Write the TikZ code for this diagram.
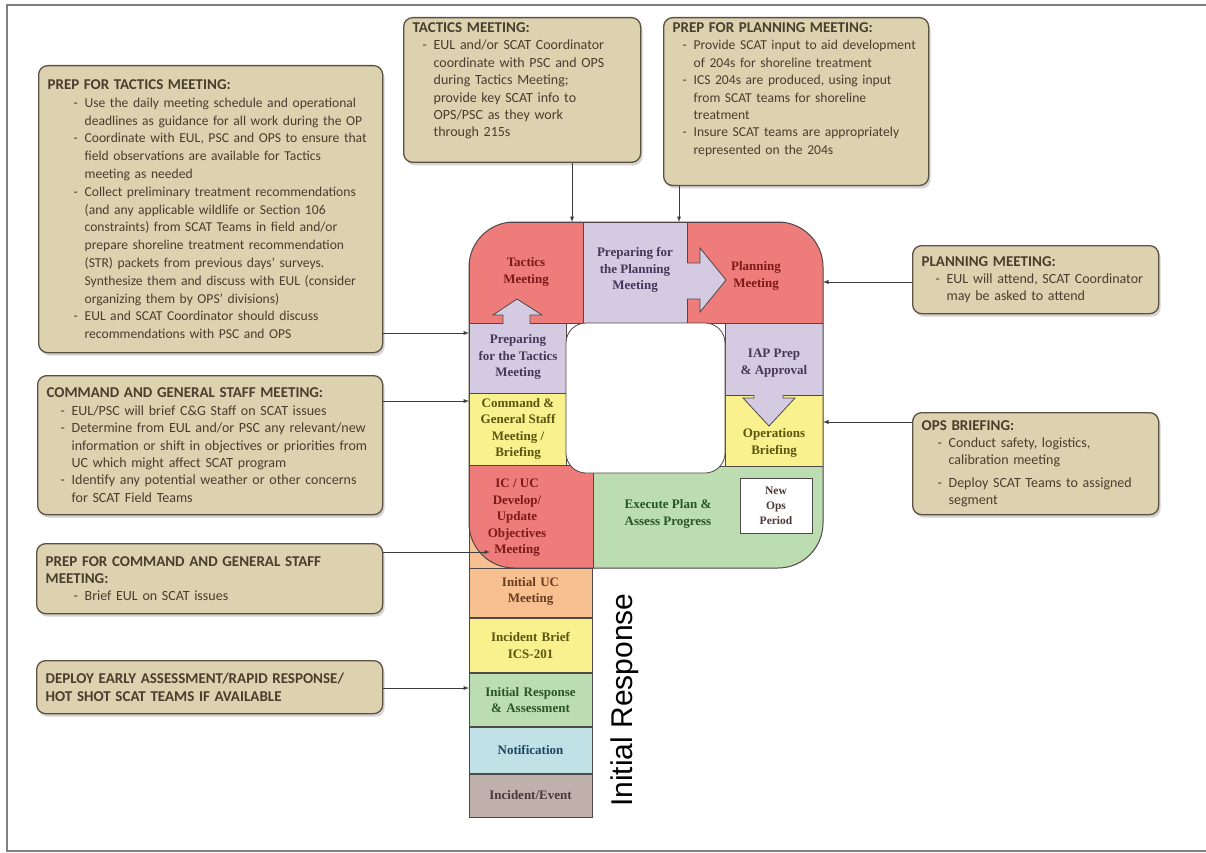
\documentclass[tikz,border=0pt]{standalone}
\usepackage{fontspec}
\setmainfont{Carlito}
\newfontfamily\diagfont{Liberation Serif}
\newfontfamily\phasefont{Liberation Sans}
\usepackage{xcolor}
\usepackage{tikz}
\usetikzlibrary{chains,positioning,shadows}

\definecolor{boxfill}{RGB}{221,210,176}
\definecolor{boxline}{RGB}{92,82,68}
\definecolor{boxtext}{RGB}{72,62,45}
\definecolor{tacred}{RGB}{238,124,122}
\definecolor{prepvio}{RGB}{212,203,226}
\definecolor{brfyel}{RGB}{248,241,142}
\definecolor{execgrn}{RGB}{188,221,178}
\definecolor{ucorange}{RGB}{247,192,145}
\definecolor{notiblue}{RGB}{192,226,230}
\definecolor{eventgry}{RGB}{192,176,172}
\definecolor{edge}{RGB}{80,72,70}
\definecolor{connline}{RGB}{60,60,60}
\definecolor{framegry}{RGB}{128,128,128}
\definecolor{redtxt}{RGB}{125,25,25}
\definecolor{viotxt}{RGB}{70,55,90}
\definecolor{yeltxt}{RGB}{90,85,15}
\definecolor{grntxt}{RGB}{40,85,40}
\definecolor{orgtxt}{RGB}{105,60,30}
\definecolor{blutxt}{RGB}{30,70,100}
\definecolor{evttxt}{RGB}{75,56,56}

% dash bullet with hanging indent (break lines with \newline, end the note with \par)
\newcommand{\dashitem}[1][14pt]{\par\hangindent=\dimexpr#1+11pt\relax\hangafter=1\noindent\hspace*{#1}\makebox[11pt][l]{-}}
\newcommand{\notehead}[1]{{\bfseries\fontsize{15}{17.6}\selectfont #1}}

\begin{document}
\begin{tikzpicture}[x=1pt,y=-1pt]

                \tikzstyle{notebox}=[draw=boxline,fill=boxfill,line width=1.3pt,rounded corners=9pt,
                    drop shadow={opacity=0.35,shadow xshift=2pt,shadow yshift=-3pt},anchor=north west,
                    align=left,inner xsep=9pt,inner ysep=5pt,text=boxtext,
                    font=\fontsize{14}{17.4}\selectfont]
                \tikzstyle{region}=[draw=edge,line width=0.8pt]
                \tikzstyle{phase}=[align=center,font=\diagfont\bfseries\fontsize{13}{16.5}\selectfont]
                \tikzstyle{stemblock}=[phase,draw=edge,line width=0.8pt,text width=119pt,inner xsep=2pt,inner ysep=1pt]
                \tikzstyle{blockarrow}=[draw=edge,line width=0.8pt,line join=miter]
                \tikzstyle{conn}=[-latex,draw=connline,line width=0.9pt]

                \useasboundingbox (0,0) rectangle (1206,853);
                \draw[framegry,line width=2pt] (1206,5) -- (7,5) -- (7,851) -- (1206,851);

                % stem of the P (initial response)
                \begin{scope}[start chain=stem going above,node distance=0pt]
                    \node [on chain=stem,stemblock,fill=eventgry,text=evttxt,minimum height=43pt] (event) at (530.5,795.5) {Incident/Event};
                    \node [on chain=stem,stemblock,fill=notiblue,text=blutxt,minimum height=46pt] (notify) {Notification};
                    \node [on chain=stem,stemblock,fill=execgrn,text=grntxt,minimum height=53pt] (initresp) {Initial Response\\\& Assessment};
                    \node [on chain=stem,stemblock,fill=brfyel,text=yeltxt,minimum height=54pt] (incbrief) {Incident Brief\\ICS-201};
                    \node [on chain=stem,stemblock,fill=ucorange,text=orgtxt,minimum height=53pt] (inituc) {Initial UC\\Meeting};
                \end{scope}
                \filldraw[region,fill=ucorange] (469,521) rectangle (592,568);

                % loop of the P
                \begin{scope}
                    \clip[rounded corners=45pt] (469,222) rectangle (823,568);
                    \filldraw[region,fill=tacred] (469,222) rectangle (583,323);
                    \filldraw[region,fill=prepvio] (583,222) rectangle (687,323);
                    \filldraw[region,fill=tacred] (687,222) rectangle (823,323);
                    \filldraw[region,fill=prepvio] (469,323) rectangle (566,393);
                    \filldraw[region,fill=brfyel] (469,393) rectangle (566,465);
                    \filldraw[region,fill=tacred] (469,465) rectangle (593,568);
                    \filldraw[region,fill=prepvio] (725,323) rectangle (823,395);
                    \filldraw[region,fill=brfyel] (725,395) rectangle (823,466);
                    \filldraw[region,fill=execgrn] (593,466) rectangle (823,568);
                \end{scope}
                \draw[region,line width=1pt,rounded corners=45pt] (469,222) rectangle (823,568);
                \filldraw[region,fill=white,rounded corners=20pt] (566,323) rectangle (725,473);

                % block arrows
                \fill[prepvio] (503,327) -- (503,315) -- (493,315) -- (517,299) -- (542,315) -- (530,315) -- (530,327) -- cycle;
                \draw[blockarrow] (503,324) -- (503,315) -- (493,315) -- (517,299) -- (542,315) -- (530,315) -- (530,324);
                \fill[prepvio] (684,263) -- (700,263) -- (700,248) -- (726,280) -- (700,312) -- (700,299) -- (684,299) -- cycle;
                \draw[blockarrow] (687,263) -- (700,263) -- (700,248) -- (726,280) -- (700,312) -- (700,299) -- (687,299);
                \fill[prepvio] (754,391) -- (754,398) -- (743,398) -- (769,426) -- (795,398) -- (783,398) -- (783,391) -- cycle;
                \draw[blockarrow] (754,395) -- (754,398) -- (743,398) -- (769,426) -- (795,398) -- (783,398) -- (783,395);

                \node [phase,text=redtxt] (tactics) at (526,272) {Tactics\\Meeting};
                \node [phase,text=viotxt] (prepplan) at (635,270) {Preparing for\\the Planning\\Meeting};
                \node [phase,text=redtxt] (planning) at (756,276) {Planning\\Meeting};
                \node [phase,text=viotxt] (preptactics) at (518,357) {Preparing\\for the Tactics\\Meeting};
                \node [phase,text=viotxt] (iap) at (774,363) {IAP Prep\\\& Approval};
                \node [phase,text=yeltxt] (cgstaff) at (518,429) {Command \&\\General Staff\\Meeting /\\Briefing};
                \node [phase,text=yeltxt] (opsbrief) at (774,443) {Operations\\Briefing};
                \node [phase,text=redtxt] (icuc) at (517,518) {IC / UC\\Develop/\\Update\\Objectives\\Meeting};
                \node [phase,text=grntxt] (execute) at (668,514) {Execute Plan \&\\Assess Progress};
                \node [phase,draw=edge,fill=white,text=evttxt,minimum width=72pt,minimum height=55pt,inner sep=1pt,
                    font=\diagfont\bfseries\fontsize{11.5}{15}\selectfont] (newops) at (776,505.5) {New\\Ops\\Period};
                \node [rotate=90,text=black,font=\phasefont\fontsize{30}{30}\selectfont] (irlabel) at (625,700) {Initial Response};

                % notes round the P
                \node [notebox,text width=326pt,minimum height=287pt,font=\fontsize{13.6}{17.8}\selectfont] (preptacnote) at (38,65) {%
                    \notehead{PREP FOR TACTICS MEETING:}
                    \dashitem[26pt]Use the daily meeting schedule and operational\newline deadlines as guidance for all work during the OP
                    \dashitem[26pt]Coordinate with EUL, PSC and OPS to ensure that\newline field observations are available for Tactics\newline meeting as needed
                    \dashitem[26pt]Collect preliminary treatment recommendations\newline (and any applicable wildlife or Section 106\newline constraints) from SCAT Teams in field and/or\newline prepare shoreline treatment recommendation\newline (STR) packets from previous days' surveys.\newline Synthesize them and discuss with EUL (consider\newline organizing them by OPS' divisions)
                    \dashitem[26pt]EUL and SCAT Coordinator should discuss\newline recommendations with PSC and OPS\par};
                \node [notebox,text width=219pt,minimum height=141pt] (tacnote) at (403,17) {%
                    \notehead{TACTICS MEETING:}
                    \dashitem[10pt]EUL and/or SCAT Coordinator\newline coordinate with PSC and OPS\newline during Tactics Meeting;\newline provide key SCAT info to\newline OPS/PSC as they work\newline through 215s\par\vspace{18pt}};
                \node [notebox,text width=247pt,minimum height=163pt,font=\fontsize{13.6}{17.4}\selectfont] (prepplannote) at (663,17) {%
                    \notehead{PREP FOR PLANNING MEETING:}
                    \dashitem[10pt]Provide SCAT input to aid development\newline of 204s for shoreline treatment
                    \dashitem[10pt]ICS 204s are produced, using input\newline from SCAT teams for shoreline\newline treatment
                    \dashitem[10pt]Insure SCAT teams are appropriately\newline represented on the 204s\par\vspace{24pt}};
                \node [notebox,text width=228pt,minimum height=68pt] (plannote) at (912,245) {%
                    \notehead{PLANNING MEETING:}
                    \dashitem[14pt]EUL will attend, SCAT Coordinator\newline may be asked to attend\par};
                \node [notebox,text width=228pt,minimum height=102pt] (opsnote) at (912,412) {%
                    \notehead{OPS BRIEFING:}
                    \dashitem[16pt]Conduct safety, logistics,\newline calibration meeting\par\vspace{5pt}
                    \dashitem[16pt]Deploy SCAT Teams to assigned\newline segment\par};
                \node [notebox,text width=327pt,minimum height=139pt] (cgnote) at (37,375) {%
                    \notehead{COMMAND AND GENERAL STAFF MEETING:}
                    \dashitem[14pt]EUL/PSC will brief C\&G Staff on SCAT issues
                    \dashitem[14pt]Determine from EUL and/or PSC any relevant/new\newline information or shift in objectives or priorities from\newline UC which might affect SCAT program
                    \dashitem[14pt]Identify any potential weather or other concerns\newline for SCAT Field Teams\par};
                \node [notebox,text width=328pt,minimum height=70pt] (prepcgnote) at (36,543) {%
                    \notehead{PREP FOR COMMAND AND GENERAL STAFF\newline MEETING:}
                    \dashitem[28pt]Brief EUL on SCAT issues\par};
                \node [notebox,text width=328pt,minimum height=53pt] (deploynote) at (36,660) {%
                    \notehead{DEPLOY EARLY ASSESSMENT/RAPID RESPONSE/\newline HOT SHOT SCAT TEAMS IF AVAILABLE}};

                % where the notes meet the P
                \coordinate (tacIn) at (572,222);
                \coordinate (prepPlanIn) at (679,222);
                \coordinate (planIn) at (823,282);
                \coordinate (opsIn) at (823,422);
                \coordinate (prepTacIn) at (469,333);
                \coordinate (cgIn) at (469,401);
                \coordinate (icIn) at (490,552);
                \coordinate (irIn) at (469,688);

                \draw[conn] (tacnote.south -| tacIn) -- (tacIn);
                \draw[conn] (prepplannote.south -| prepPlanIn) -- (prepPlanIn);
                \draw[conn] (plannote.west |- planIn) -- (planIn);
                \draw[conn] (opsnote.west |- opsIn) -- (opsIn);
                \draw[conn] (preptacnote.east |- prepTacIn) -- (prepTacIn);
                \draw[conn] (cgnote.east |- cgIn) -- (cgIn);
                \draw[conn] (prepcgnote.east |- icIn) -- (icIn);
                \draw[conn] (deploynote.east |- irIn) -- (irIn);

            \end{tikzpicture}
\end{document}
